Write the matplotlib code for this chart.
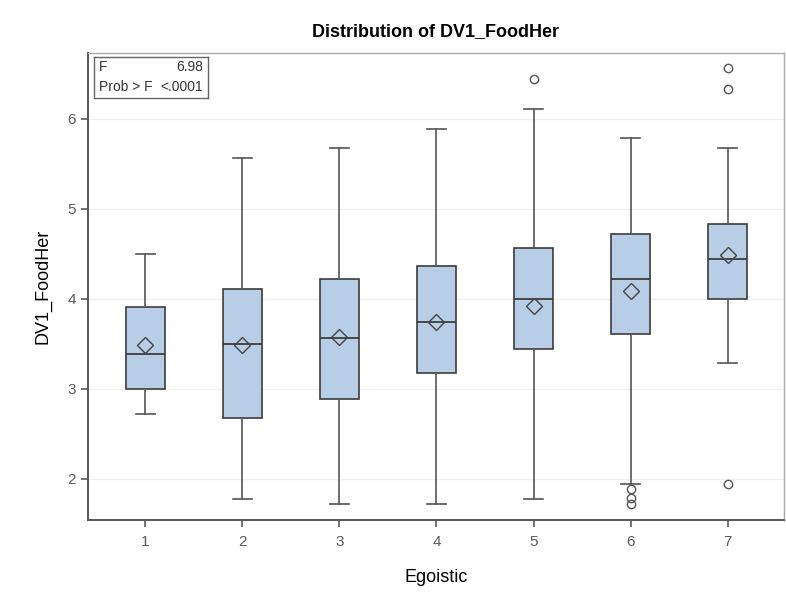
import matplotlib
matplotlib.use("Agg")
import matplotlib.pyplot as plt
from matplotlib import font_manager

# --- data (SAS box plot, DV1_FoodHer by Egoistic) ---
groups   = [1, 2, 3, 4, 5, 6, 7]
whislo   = [2.72, 1.77, 1.72, 1.72, 1.77, 1.94, 3.28]
q1       = [3.00, 2.67, 2.89, 3.17, 3.44, 3.61, 4.00]
medians  = [3.39, 3.50, 3.56, 3.74, 4.00, 4.22, 4.44]
means    = [3.48, 3.48, 3.57, 3.74, 3.92, 4.09, 4.49]
q3       = [3.91, 4.11, 4.22, 4.36, 4.56, 4.72, 4.83]
whishi   = [4.50, 5.56, 5.67, 5.89, 6.11, 5.78, 5.67]
outliers = [[], [], [], [], [6.44], [1.88, 1.78, 1.72], [6.56, 6.33, 1.94]]

f_value = "6.98"
p_value = "<.0001"

names = {f.name for f in font_manager.fontManager.ttflist}
narrow = "Liberation Sans Narrow" if "Liberation Sans Narrow" in names else "Liberation Sans"

plt.rcParams['font.family'] = ['Liberation Sans', 'DejaVu Sans']

fig = plt.figure(figsize=(7.86, 5.96), dpi=100)
ax = fig.add_axes([88 / 786, 76 / 596, (784 - 88) / 786, (520 - 53) / 596])

stats = []
for i in range(len(groups)):
    stats.append(dict(med=medians[i], q1=q1[i], q3=q3[i], whislo=whislo[i],
                      whishi=whishi[i], mean=means[i], fliers=outliers[i]))

ax.bxp(stats, positions=groups, widths=0.4, patch_artist=True, showmeans=True,
       boxprops=dict(facecolor='#b8cde6', edgecolor='#3c3c3c', linewidth=1.2),
       medianprops=dict(color='#3c3c3c', linewidth=1.3),
       whiskerprops=dict(color='#555555', linewidth=1.2),
       capprops=dict(color='#555555', linewidth=1.2),
       capwidths=0.2,
       meanprops=dict(marker='D', markerfacecolor='none', markeredgecolor='#444444',
                      markersize=8, markeredgewidth=1.0),
       flierprops=dict(marker='o', markerfacecolor='none', markeredgecolor='#555555',
                       markersize=6, markeredgewidth=1.0))

ax.set_xlim(0.41, 7.58)
ax.set_ylim(1.54, 6.73)
ax.set_yticks([2, 3, 4, 5, 6])
ax.set_xticks(groups)
ax.set_xticklabels([str(g) for g in groups])
ax.yaxis.grid(True, color='#f0f0f0', linewidth=1.0)
ax.set_axisbelow(True)

for side in ['left', 'bottom']:
    ax.spines[side].set_color('#555555')
    ax.spines[side].set_linewidth(1.4)
for side in ['top', 'right']:
    ax.spines[side].set_color('#aaaaaa')
    ax.spines[side].set_linewidth(1.0)

ax.tick_params(colors='#5a5a5a', labelcolor='#5a5a5a', labelsize=11, length=5, width=1.2)
ax.tick_params(axis='x', pad=6)

ax.set_xlabel("Egoistic", fontsize=13, family=narrow, labelpad=14)
ax.set_ylabel("DV1_FoodHer", fontsize=13, family=narrow, labelpad=12)
fig.text(0.5 * (88 + 784) / 786, 1 - 32 / 596, "Distribution of DV1_FoodHer",
         ha='center', va='center', fontsize=13, fontweight='bold', family=narrow)

# F-test inset box
inset = fig.add_axes([94 / 786, 1 - 98 / 596, (208 - 94) / 786, (98 - 57) / 596])
inset.set_xticks([])
inset.set_yticks([])
for s in inset.spines.values():
    s.set_color('#666666')
    s.set_linewidth(1.0)
inset.text(0.04, 0.75, "F", ha='left', va='center', fontsize=10, color='#333333', family=narrow)
inset.text(0.96, 0.75, f_value, ha='right', va='center', fontsize=10, color='#333333', family=narrow)
inset.text(0.04, 0.27, "Prob > F", ha='left', va='center', fontsize=10, color='#333333', family=narrow)
inset.text(0.96, 0.27, p_value, ha='right', va='center', fontsize=10, color='#333333', family=narrow)

fig.savefig("out.png", dpi=100)
